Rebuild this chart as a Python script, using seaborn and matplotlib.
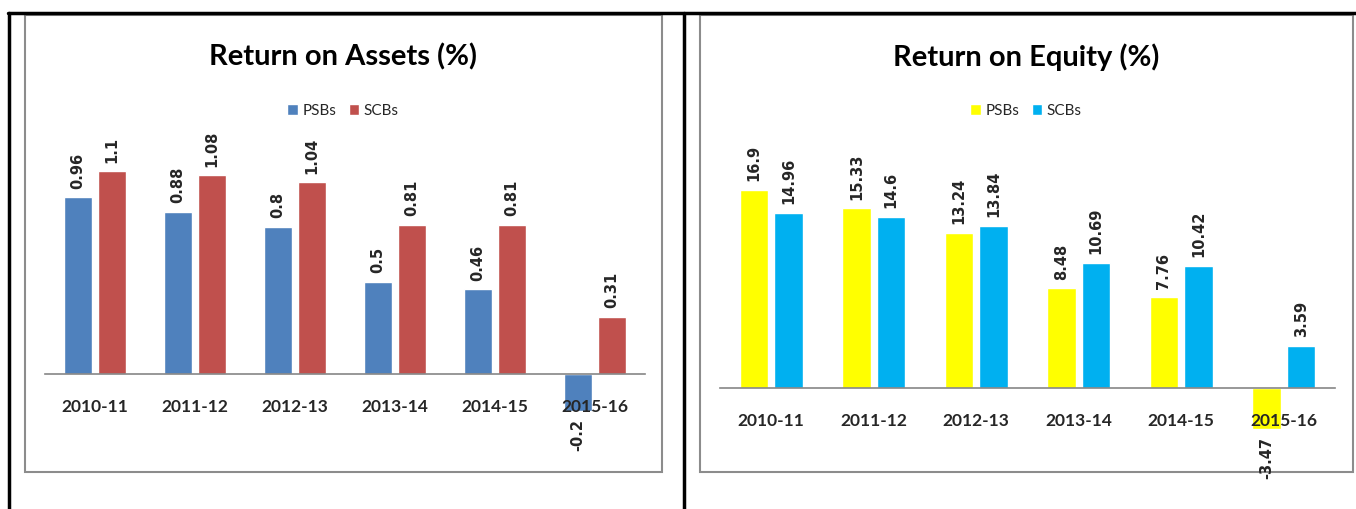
import pandas as pd
import matplotlib
matplotlib.use("Agg")
import matplotlib.pyplot as plt
from matplotlib.patches import Rectangle
import seaborn as sns

sns.set_style("white")
plt.rcParams["font.family"] = ["Lato", "DejaVu Sans"]

years = ["2010-11", "2011-12", "2012-13", "2013-14", "2014-15", "2015-16"]
groups = ["PSBs", "SCBs"]
roa_psb = [0.96, 0.88, 0.8, 0.5, 0.46, -0.2]
roa_scb = [1.1, 1.08, 1.04, 0.81, 0.81, 0.31]
roe_psb = [16.9, 15.33, 13.24, 8.48, 7.76, -3.47]
roe_scb = [14.96, 14.6, 13.84, 10.69, 10.42, 3.59]

W, H = 1356, 509
fig = plt.figure(figsize=(W / 100, H / 100), dpi=100)

# page decoration: table borders and chart frames, drawn in pixel coords
bg = fig.add_axes([0, 0, 1, 1])
bg.set_xlim(0, W)
bg.set_ylim(H, 0)
bg.axis("off")
bg.plot([8, W], [13, 13], color="black", lw=2.5)
bg.plot([9, 9], [13, H], color="black", lw=2.5)
bg.plot([684, 684], [13, H], color="black", lw=2.5)
bg.add_patch(Rectangle((25, 15), 637, 457, fill=False, ec="#8c8c8c", lw=1.5))
bg.add_patch(Rectangle((700, 15), 653, 457, fill=False, ec="#8c8c8c", lw=1.5))


def px_axes(x0, x1, y0, y1):
    return fig.add_axes([x0 / W, 1 - y1 / H, (x1 - x0) / W, (y1 - y0) / H])


def draw_chart(ax, psb, scb, colors, ylim, title, cx):
    df = pd.DataFrame({
        "year": years * 2,
        "group": [groups[0]] * len(years) + [groups[1]] * len(years),
        "value": psb + scb,
    })
    sns.barplot(data=df, x="year", y="value", hue="group", hue_order=groups,
                palette=dict(zip(groups, colors)), width=0.68, gap=0.18,
                errorbar=None, saturation=1, ax=ax)
    ax.set_xlim(-0.5, len(years) - 0.5)
    ax.set_ylim(*ylim)
    ax.set_axisbelow(False)
    ax.patch.set_alpha(0)
    for s in ["left", "right", "top"]:
        ax.spines[s].set_visible(False)
    ax.spines["bottom"].set_position(("data", 0))
    ax.spines["bottom"].set_color("#868686")
    ax.spines["bottom"].set_linewidth(1.2)
    ax.set_yticks([])
    ax.set_xlabel("")
    ax.set_ylabel("")
    ax.tick_params(axis="x", length=0, pad=18)
    for t in ax.get_xticklabels():
        t.set_fontsize(12.5)
        t.set_fontweight("bold")
    for cont, vals in zip(ax.containers, [psb, scb]):
        ax.bar_label(cont, labels=[f"{v:g}" for v in vals], rotation=90,
                     padding=6, fontsize=10.5, fontweight="bold",
                     family="DejaVu Sans")
    handles, labels = ax.get_legend_handles_labels()
    ax.legend(handles, labels, loc="center", ncol=2,
              bbox_to_anchor=(cx / W, 1 - 111 / H), bbox_transform=fig.transFigure,
              frameon=False, fontsize=11, handlelength=0.7, handleheight=0.7,
              handletextpad=0.3, columnspacing=0.8)
    fig.text(cx / W, 1 - 57 / H, title, ha="center", va="center",
             fontsize=21, fontweight="bold", color="black")


ax1 = px_axes(45, 645, 140, 440)
draw_chart(ax1, roa_psb, roa_scb, ["#4F81BD", "#C0504D"], (-0.36, 1.27),
           "Return on Assets (%)", 343)

ax2 = px_axes(720, 1335, 140, 450)
draw_chart(ax2, roe_psb, roe_scb, ["#FFFF00", "#00B0F0"], (-5.3, 21.15),
           "Return on Equity (%)", 1026)

fig.savefig("out.png", dpi=100)
